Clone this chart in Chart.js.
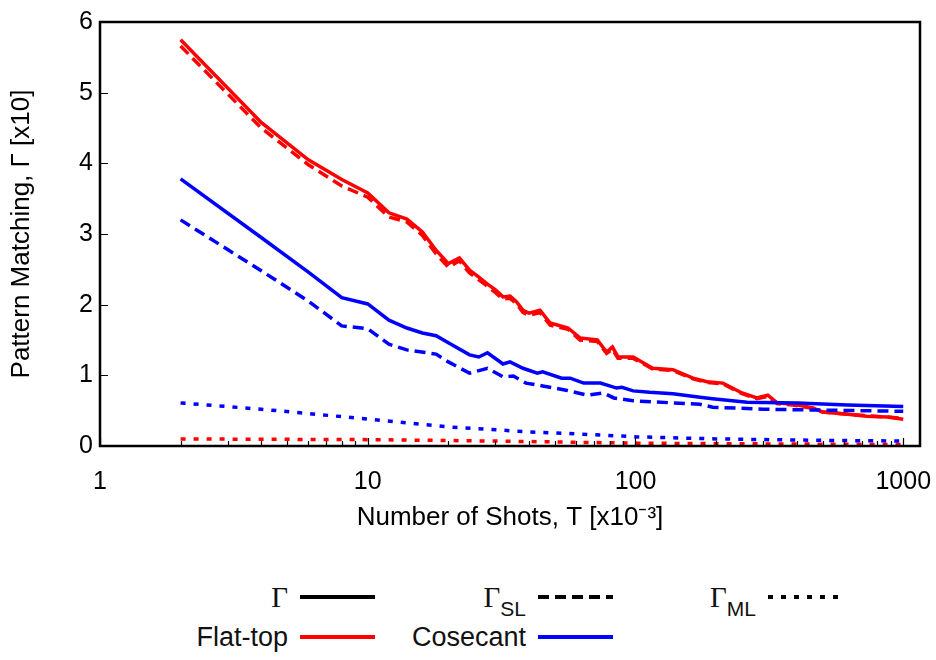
<!DOCTYPE html>
<html lang="en">
<head>
<meta charset="UTF-8">
<title>Pattern Matching vs Number of Shots</title>
<script src="https://cdn.jsdelivr.net/npm/chart.js"></script>
<style>
  body { margin: 0; background: #fff; font-family: "Liberation Sans", Arial, sans-serif; }
  #wrap { position: relative; width: 936px; height: 660px; overflow: hidden; }
  #chartBox { position: absolute; left: 0; top: 0; width: 936px; height: 545px; }
  .lbl { position: absolute; text-align: right; font-size: 27px; color: #111; line-height: 1; transform: translateY(-50%); white-space: nowrap; }
  .gam { font-family: "Liberation Serif", serif; font-size: 29px; }
  .sub { font-size: 21px; position: relative; top: 9px; }
  svg.key { position: absolute; }
</style>
</head>
<body>
<div id="wrap">
  <div id="chartBox"><canvas id="chart"></canvas></div>
  <div id="legend"></div>
</div>
<script>
// x ticks (log axis) and y range
const xTickValues = [1, 10, 100, 1000];
const yTickStep = 1;

// Flat-top pattern
const flatTopX = [2, 4, 6, 8, 10, 12, 14, 16, 18, 20, 22, 24, 26, 28, 30, 32, 34, 36, 38, 40,
  44, 48, 56, 62, 72, 78, 82, 86, 98, 116, 138, 164, 185, 212, 250, 284, 312, 338, 388, 460,
  500, 620, 730, 870, 1000];
const flatTopGamma = [5.75, 4.58, 4.05, 3.77, 3.58, 3.30, 3.21, 3.03, 2.77, 2.58, 2.66, 2.49, 2.39, 2.29, 2.21, 2.11, 2.12, 2.04, 1.92, 1.88,
  1.92, 1.74, 1.67, 1.53, 1.50, 1.33, 1.40, 1.26, 1.26, 1.10, 1.08, 0.96, 0.91, 0.89, 0.75, 0.68, 0.72, 0.61, 0.59, 0.54,
  0.48, 0.45, 0.42, 0.41, 0.38];
const flatTopSL = [5.66, 4.50, 3.98, 3.68, 3.52, 3.24, 3.17, 2.98, 2.72, 2.53, 2.62, 2.45, 2.35, 2.26, 2.17, 2.08, 2.09, 2.01, 1.89, 1.85,
  1.89, 1.71, 1.65, 1.50, 1.48, 1.31, 1.37, 1.24, 1.24, 1.09, 1.07, 0.95, 0.90, 0.88, 0.74, 0.67, 0.70, 0.60, 0.58, 0.53,
  0.48, 0.45, 0.43, 0.41, 0.39];
const flatTopMLX = [2, 10, 30, 100, 300, 1000];
const flatTopML = [0.10, 0.09, 0.07, 0.04, 0.03, 0.02];

// Cosecant pattern
const cosecX = [2, 4, 6, 8, 10, 12, 14, 16, 18, 20, 24, 26, 28, 32, 34, 38, 43, 45, 53, 57,
  64, 68, 74, 85, 89, 98, 113, 138, 174, 194, 261, 402, 619, 1000];
const cosecGamma = [3.78, 2.95, 2.46, 2.10, 2.01, 1.78, 1.67, 1.60, 1.56, 1.46, 1.29, 1.26, 1.32, 1.16, 1.19, 1.10, 1.03, 1.05, 0.96, 0.96,
  0.89, 0.89, 0.89, 0.82, 0.83, 0.78, 0.76, 0.74, 0.69, 0.67, 0.62, 0.61, 0.58, 0.56];
const cosecSLX = [2, 4, 6, 8, 10, 12, 14, 18, 20, 24, 28, 32, 35, 39, 45, 55, 66, 76, 83, 98,
  138, 174, 194, 300, 460, 710, 1000];
const cosecSL = [3.20, 2.48, 2.05, 1.70, 1.66, 1.44, 1.36, 1.30, 1.19, 1.03, 1.10, 0.98, 0.99, 0.89, 0.85, 0.79, 0.72, 0.75, 0.68, 0.64,
  0.61, 0.59, 0.55, 0.52, 0.51, 0.50, 0.49];
const cosecMLX = [2, 4, 6, 10, 20, 40, 70, 100, 200, 500, 1000];
const cosecML = [0.61, 0.52, 0.46, 0.38, 0.27, 0.20, 0.16, 0.13, 0.10, 0.08, 0.07];

const RED = '#ff0000';
const BLUE = '#0000ff';
const DASH = [11, 6];
const DOT = [5, 8];
const FONT = '"Liberation Sans", Arial, sans-serif';

const pts = (xs, ys) => xs.map((x, i) => ({ x: x, y: ys[i] }));

// inward tick marks on bottom and left + box frame
const minorX = [];
for (let d = 1; d <= 100; d *= 10) for (let k = 1; k <= 9; k++) minorX.push(k * d);
minorX.push(1000);

const framePlugin = {
  id: 'frame',
  afterDatasetsDraw(chart) {
    const { ctx, chartArea: a, scales } = chart;
    ctx.save();
    ctx.strokeStyle = '#000';
    ctx.lineWidth = 1.2;
    ctx.beginPath();
    minorX.forEach(v => {
      const px = Math.round(scales.x.getPixelForValue(v)) + 0.5;
      const len = xTickValues.includes(v) ? 8 : 5;
      ctx.moveTo(px, a.bottom);
      ctx.lineTo(px, a.bottom - len);
    });
    for (let v = 1; v < 6; v += yTickStep) {
      const py = Math.round(scales.y.getPixelForValue(v)) + 0.5;
      ctx.moveTo(a.left, py);
      ctx.lineTo(a.left + 8, py);
    }
    ctx.stroke();
    ctx.lineWidth = 2.5;
    ctx.strokeRect(a.left, a.top, a.right - a.left, a.bottom - a.top);
    ctx.restore();
  }
};

new Chart(document.getElementById('chart'), {
  type: 'line',
  data: {
    datasets: [
      { label: 'Cosecant Γ', data: pts(cosecX, cosecGamma), borderColor: BLUE },
      { label: 'Cosecant ΓSL', data: pts(cosecSLX, cosecSL), borderColor: BLUE, borderDash: DASH },
      { label: 'Cosecant ΓML', data: pts(cosecMLX, cosecML), borderColor: BLUE, borderDash: DOT },
      { label: 'Flat-top Γ', data: pts(flatTopX, flatTopGamma), borderColor: RED },
      { label: 'Flat-top ΓSL', data: pts(flatTopX, flatTopSL), borderColor: RED, borderDash: DASH },
      { label: 'Flat-top ΓML', data: pts(flatTopMLX, flatTopML), borderColor: RED, borderDash: DOT }
    ]
  },
  options: {
    responsive: true,
    maintainAspectRatio: false,
    animation: false,
    layout: { padding: { top: 22, right: 16, left: 0, bottom: 0 } },
    elements: { point: { radius: 0 }, line: { borderWidth: 3.5, tension: 0, borderCapStyle: 'butt' } },
    plugins: { legend: { display: false }, tooltip: { enabled: false } },
    scales: {
      x: {
        type: 'logarithmic',
        min: 1,
        max: 1155,
        afterBuildTicks: s => { s.ticks = xTickValues.map(v => ({ value: v })); },
        afterFit: s => { s.height = 99; s.paddingLeft = 0; s.paddingRight = 0; },
        grid: { display: false, drawTicks: false },
        border: { display: false },
        ticks: { color: '#000', font: { family: FONT, size: 25 }, padding: 21, maxRotation: 0, autoSkip: false, callback: v => String(v) },
        title: { display: true, text: 'Number of Shots, T [x10⁻³]', color: '#000', font: { family: FONT, size: 26 }, padding: { top: 0, bottom: 12 } }
      },
      y: {
        min: 0,
        max: 6,
        afterFit: s => { s.width = 100; s.paddingTop = 0; s.paddingBottom = 0; },
        grid: { display: false, drawTicks: false },
        border: { display: false },
        ticks: { stepSize: yTickStep, color: '#000', font: { family: FONT, size: 25 }, padding: 7 },
        title: { display: true, text: 'Pattern Matching, Γ [x10]', color: '#000', font: { family: FONT, size: 26 }, padding: { top: 6, bottom: 0 } }
      }
    }
  },
  plugins: [framePlugin]
});

// legend: 3 line-style keys, then 2 colour keys
const legendItems = [
  { html: '<span class="gam">Γ</span>', x: 300, y: 597, color: '#000', dash: '' },
  { html: '<span class="gam">Γ</span><span class="sub">SL</span>', x: 538, y: 597, color: '#000', dash: '11 6' },
  { html: '<span class="gam">Γ</span><span class="sub">ML</span>', x: 768, y: 597, color: '#000', dash: '5 8' },
  { html: 'Flat-top', x: 300, y: 637, color: RED, dash: '' },
  { html: 'Cosecant', x: 538, y: 637, color: BLUE, dash: '' }
];
const legend = document.getElementById('legend');
legendItems.forEach(it => {
  const len = it.x === 768 ? 78 : 75;
  const lab = document.createElement('div');
  lab.className = 'lbl';
  lab.style.right = (936 - it.x + 12) + 'px';
  lab.style.top = it.y + 'px';
  lab.innerHTML = it.html;
  legend.appendChild(lab);
  const svg = document.createElementNS('http://www.w3.org/2000/svg', 'svg');
  svg.setAttribute('class', 'key');
  svg.setAttribute('width', len);
  svg.setAttribute('height', 6);
  svg.style.left = it.x + 'px';
  svg.style.top = (it.y - 3) + 'px';
  svg.innerHTML = '<line x1="0" y1="3" x2="' + len + '" y2="3" stroke="' + it.color + '" stroke-width="4"' +
    (it.dash ? ' stroke-dasharray="' + it.dash + '"' : '') + '/>';
  legend.appendChild(svg);
});
</script>
</body>
</html>
